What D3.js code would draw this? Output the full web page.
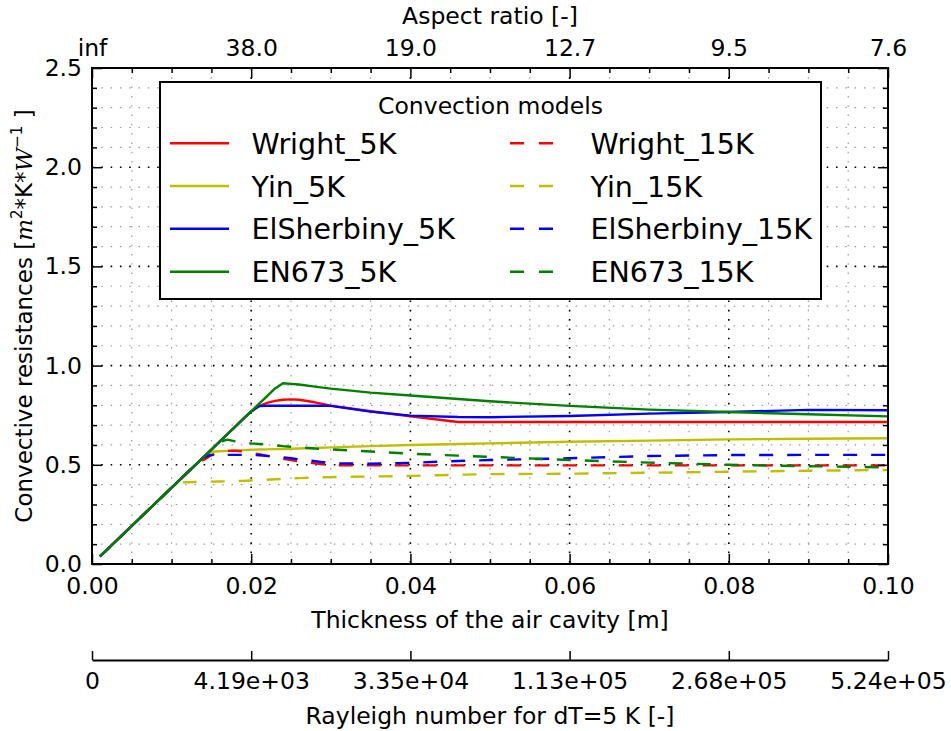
<!DOCTYPE html>
<html>
<head>
<meta charset="utf-8">
<script src="https://cdn.jsdelivr.net/npm/d3@7/dist/d3.min.js"></script>
<style>
  body { margin: 0; background: #fff; }
  svg text { font-family: "DejaVu Sans", sans-serif; fill: #000; }
</style>
</head>
<body>
<svg id="chart" width="951" height="731"></svg>
<script>
// ---------------- DATA ----------------
const thickness = [0.001, 0.005, 0.01, 0.011, 0.012, 0.013, 0.014, 0.015, 0.016, 0.017, 0.018, 0.019, 0.02, 0.021, 0.022, 0.023, 0.024, 0.025, 0.026, 0.028, 0.03, 0.035, 0.04, 0.046, 0.05, 0.06, 0.07, 0.08, 0.09, 0.1];

const wright5K     = [0.038, 0.192, 0.385, 0.423, 0.462, 0.500, 0.538, 0.577, 0.615, 0.654, 0.692, 0.731, 0.769, 0.796, 0.812, 0.822, 0.828, 0.830, 0.828, 0.815, 0.798, 0.770, 0.745, 0.716, 0.716, 0.716, 0.716, 0.716, 0.716, 0.716];
const yin5K        = [0.038, 0.192, 0.385, 0.423, 0.462, 0.500, 0.538, 0.566, 0.568, 0.570, 0.572, 0.574, 0.576, 0.577, 0.578, 0.579, 0.580, 0.581, 0.582, 0.585, 0.588, 0.594, 0.600, 0.605, 0.608, 0.616, 0.622, 0.628, 0.631, 0.634];
const elSherbiny5K = [0.038, 0.192, 0.385, 0.423, 0.462, 0.500, 0.538, 0.577, 0.615, 0.654, 0.692, 0.731, 0.769, 0.796, 0.798, 0.798, 0.798, 0.798, 0.798, 0.798, 0.797, 0.768, 0.748, 0.741, 0.740, 0.746, 0.758, 0.766, 0.777, 0.775];
const en673_5K     = [0.038, 0.192, 0.385, 0.423, 0.462, 0.500, 0.538, 0.577, 0.615, 0.654, 0.692, 0.731, 0.769, 0.808, 0.846, 0.885, 0.911, 0.908, 0.905, 0.894, 0.884, 0.864, 0.849, 0.832, 0.820, 0.797, 0.778, 0.766, 0.755, 0.744];

const wright15K     = [0.038, 0.192, 0.385, 0.423, 0.462, 0.495, 0.525, 0.548, 0.562, 0.570, 0.571, 0.567, 0.560, 0.553, 0.545, 0.537, 0.530, 0.524, 0.518, 0.507, 0.498, 0.497, 0.497, 0.497, 0.497, 0.497, 0.497, 0.497, 0.497, 0.497];
const yin15K        = [0.038, 0.192, 0.385, 0.411, 0.412, 0.413, 0.414, 0.415, 0.416, 0.417, 0.418, 0.419, 0.421, 0.423, 0.425, 0.427, 0.429, 0.431, 0.433, 0.436, 0.438, 0.441, 0.444, 0.450, 0.453, 0.455, 0.460, 0.465, 0.470, 0.474];
const elSherbiny15K = [0.038, 0.192, 0.385, 0.423, 0.462, 0.500, 0.538, 0.550, 0.550, 0.550, 0.550, 0.550, 0.550, 0.548, 0.545, 0.541, 0.537, 0.533, 0.528, 0.518, 0.508, 0.505, 0.510, 0.519, 0.524, 0.533, 0.544, 0.549, 0.550, 0.550];
const en673_15K     = [0.038, 0.192, 0.385, 0.423, 0.462, 0.500, 0.538, 0.577, 0.615, 0.627, 0.618, 0.612, 0.608, 0.605, 0.602, 0.598, 0.594, 0.591, 0.588, 0.582, 0.578, 0.567, 0.556, 0.546, 0.540, 0.524, 0.511, 0.500, 0.493, 0.487];

const seriesNames  = ["Wright_5K", "Yin_5K", "ElSherbiny_5K", "EN673_5K", "Wright_15K", "Yin_15K", "ElSherbiny_15K", "EN673_15K"];
const seriesValues = [wright5K, yin5K, elSherbiny5K, en673_5K, wright15K, yin15K, elSherbiny15K, en673_15K];
const seriesColors = ["#ff0000", "#bfbf00", "#0000ff", "#008000", "#ff0000", "#bfbf00", "#0000ff", "#008000"];
const seriesDashed = [false, false, false, false, true, true, true, true];

const xMajorTicks = [0, 0.02, 0.04, 0.06, 0.08, 0.1];
const xTickLabels = ["0.00", "0.02", "0.04", "0.06", "0.08", "0.10"];
const yMajorTicks = [0, 0.5, 1.0, 1.5, 2.0, 2.5];
const yTickLabels = ["0.0", "0.5", "1.0", "1.5", "2.0", "2.5"];
const aspectLabels = ["inf", "38.0", "19.0", "12.7", "9.5", "7.6"];
const rayleighLabels = ["0", "4.19e+03", "3.35e+04", "1.13e+05", "2.68e+05", "5.24e+05"];

// ---------------- LAYOUT ----------------
const L = 92, R = 888, T = 68, B = 564;
const svg = d3.select("#chart");
const x = d3.scaleLinear().domain([0, 0.1]).range([L, R]);
const y = d3.scaleLinear().domain([0, 2.5]).range([B, T]);
const xMinor = d3.range(0, 0.1001, 0.005).filter(v => !xMajorTicks.some(m => Math.abs(m - v) < 1e-9));
const yMinor = d3.range(0, 2.5001, 0.1).filter(v => !yMajorTicks.some(m => Math.abs(m - v) < 1e-9));
const FS = 23.5;

// grid
const grid = svg.append("g");
xMinor.forEach(v => grid.append("line").attr("x1", x(v)).attr("x2", x(v)).attr("y1", T).attr("y2", B)
  .attr("stroke", "#999").attr("stroke-width", 1.2).attr("stroke-dasharray", "1.5,7.8"));
yMinor.forEach(v => grid.append("line").attr("x1", L).attr("x2", R).attr("y1", y(v)).attr("y2", y(v))
  .attr("stroke", "#999").attr("stroke-width", 1.2).attr("stroke-dasharray", "1.5,7.8"));
xMajorTicks.slice(1, -1).forEach(v => grid.append("line").attr("x1", x(v)).attr("x2", x(v)).attr("y1", T).attr("y2", B)
  .attr("stroke", "#000").attr("stroke-width", 1.6).attr("stroke-dasharray", "1.6,7.7"));
yMajorTicks.slice(1, -1).forEach(v => grid.append("line").attr("x1", L).attr("x2", R).attr("y1", y(v)).attr("y2", y(v))
  .attr("stroke", "#000").attr("stroke-width", 1.6).attr("stroke-dasharray", "1.6,7.7"));

// lines
const lineGen = d3.line().x((d, i) => x(thickness[i])).y(d => y(d));
const plot = svg.append("g");
seriesValues.forEach((vals, k) => {
  plot.append("path").datum(vals).attr("d", lineGen)
    .attr("fill", "none").attr("stroke", seriesColors[k]).attr("stroke-width", 2.4)
    .attr("stroke-linejoin", "round")
    .attr("stroke-dasharray", seriesDashed[k] ? "14,14" : null);
});

// axes
function styleAxis(g) {
  g.select(".domain").remove();
  g.selectAll(".tick line").attr("stroke", "#000").attr("stroke-width", 1.5);
  g.selectAll("text").style("font-size", FS + "px").style("font-family", "DejaVu Sans");
}
svg.append("g").attr("transform", `translate(0,${B})`)
  .call(d3.axisBottom(x).tickValues(xMajorTicks).tickFormat((d, i) => xTickLabels[i]).tickSize(-10).tickPadding(13))
  .call(styleAxis);
svg.append("g").attr("transform", `translate(0,${B})`)
  .call(d3.axisBottom(x).tickValues(xMinor).tickFormat("").tickSize(-5)).call(styleAxis);
svg.append("g").attr("transform", `translate(0,${T})`)
  .call(d3.axisTop(x).tickValues(xMajorTicks).tickFormat((d, i) => aspectLabels[i]).tickSize(-10).tickPadding(12))
  .call(styleAxis);
svg.append("g").attr("transform", `translate(0,${T})`)
  .call(d3.axisTop(x).tickValues(xMinor).tickFormat("").tickSize(-5)).call(styleAxis);
svg.append("g").attr("transform", `translate(${L},0)`)
  .call(d3.axisLeft(y).tickValues(yMajorTicks).tickFormat((d, i) => yTickLabels[i]).tickSize(-10).tickPadding(10))
  .call(styleAxis);
svg.append("g").attr("transform", `translate(${L},0)`)
  .call(d3.axisLeft(y).tickValues(yMinor).tickFormat("").tickSize(-5)).call(styleAxis);
svg.append("g").attr("transform", `translate(${R},0)`)
  .call(d3.axisRight(y).tickValues(yMajorTicks).tickFormat("").tickSize(-10)).call(styleAxis);
svg.append("g").attr("transform", `translate(${R},0)`)
  .call(d3.axisRight(y).tickValues(yMinor).tickFormat("").tickSize(-5)).call(styleAxis);

// frame
svg.append("rect").attr("x", L).attr("y", T).attr("width", R - L).attr("height", B - T)
  .attr("fill", "none").attr("stroke", "#000").attr("stroke-width", 2);

// Rayleigh axis
const RY = 660;
const ray = svg.append("g").attr("transform", `translate(0,${RY})`)
  .call(d3.axisBottom(x).tickValues(xMajorTicks).tickFormat((d, i) => rayleighLabels[i]).tickSize(-9).tickSizeOuter(0).tickPadding(12));
ray.selectAll(".tick line").attr("stroke", "#000").attr("stroke-width", 1.5);
ray.select(".domain").attr("stroke", "#000").attr("stroke-width", 1.8);
ray.selectAll("text").style("font-size", FS + "px").style("font-family", "DejaVu Sans");

// axis titles
svg.append("text").attr("x", (L + R) / 2).attr("y", 628).attr("text-anchor", "middle")
  .style("font-size", FS + "px").text("Thickness of the air cavity [m]");
svg.append("text").attr("x", (L + R) / 2).attr("y", 724).attr("text-anchor", "middle")
  .style("font-size", FS + "px").text("Rayleigh number for dT=5 K [-]");
svg.append("text").attr("x", (L + R) / 2).attr("y", 24).attr("text-anchor", "middle")
  .style("font-size", FS + "px").text("Aspect ratio [-]");

const yl = svg.append("text").attr("transform", `translate(32,${(T + B) / 2}) rotate(-90)`)
  .attr("text-anchor", "middle").style("font-size", "23px");
yl.append("tspan").text("Convective resistances [");
yl.append("tspan").style("font-family", "DejaVu Serif").style("font-style", "italic").text("m");
yl.append("tspan").style("font-size", "15px").attr("dy", -10).text("2");
yl.append("tspan").attr("dy", 10).text("*K*");
yl.append("tspan").style("font-family", "DejaVu Serif").style("font-style", "italic").text("W");
yl.append("tspan").style("font-size", "15px").attr("dy", -10).text("\u22121");
yl.append("tspan").attr("dy", 10).text(" ]");

// legend
const lg = svg.append("g");
lg.append("rect").attr("x", 160).attr("y", 82).attr("width", 661).attr("height", 217)
  .attr("fill", "#fff").attr("stroke", "#000").attr("stroke-width", 2);
lg.append("text").attr("x", 490.5).attr("y", 113.5).attr("text-anchor", "middle")
  .style("font-size", FS + "px").text("Convection models");
const rowY = [143.3, 186, 228.7, 271.7];
const colLineX = [[170, 229], [510, 553]];
const colTextX = [251.5, 590.5];
seriesNames.forEach((name, k) => {
  const col = k < 4 ? 0 : 1, row = k % 4;
  lg.append("line").attr("x1", colLineX[col][0]).attr("x2", colLineX[col][1])
    .attr("y1", rowY[row]).attr("y2", rowY[row])
    .attr("stroke", seriesColors[k]).attr("stroke-width", 2.4)
    .attr("stroke-dasharray", seriesDashed[k] ? "14,15" : null);
  lg.append("text").attr("x", colTextX[col]).attr("y", rowY[row] + 10.5)
    .style("font-size", "28.5px").text(name);
});
</script>
</body>
</html>
